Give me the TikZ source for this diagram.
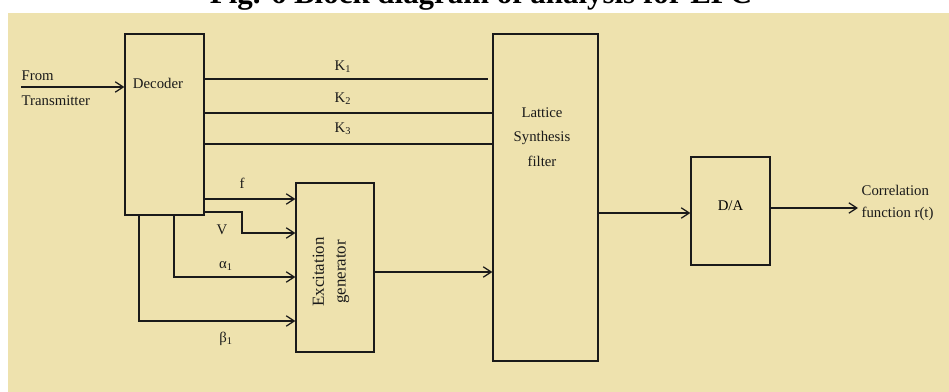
\documentclass[tikz,border=0pt]{standalone}
\usepackage{fontspec}
\setmainfont{Liberation Serif}
\usetikzlibrary{arrows.meta, positioning, fit, calc}
\definecolor{bgBeige}{HTML}{EEE2AE}
\definecolor{inkBlack}{HTML}{1A1A1A}

\begin{document}
\begin{tikzpicture}[x=0.025cm, y=-0.025cm,
   line/.style={draw=inkBlack, line width=0.9pt},
   arr/.style={line, -{Straight Barb[length=2mm, width=2.6mm]}},
   blk/.style={rectangle, draw=inkBlack, line width=0.9pt, inner sep=0pt,
               font=\fontsize{10.5}{12}\selectfont},
   lbl/.style={font=\fontsize{10.5}{12}\selectfont, text=inkBlack, inner sep=1pt}]

\useasboundingbox (0,0) rectangle (949,392);
\fill[bgBeige] (8,13) rectangle (949,392);
\node[font=\bfseries\fontsize{22}{24}\selectfont, anchor=base] (title) at (481,4)
     {Fig. 6 Block diagram of analysis for LPC};

% blocks
\node[blk, fit={(125,34) (204,215)}] (dec) {};
\node[blk, fit={(296,183) (374,352)}] (exc) {};
\node[blk, fit={(493,34) (598,361)}] (lat) {};
\node[blk, fit={(691,157) (770,265)}] (da) {D/A};

\node[lbl] (decTxt) at (158,83) {Decoder};
\node[lbl, align=center, font=\fontsize{10.5}{17.5}\selectfont] (latTxt) at (542,137)
     {Lattice\\Synthesis\\filter};
\node[lbl, rotate=90, align=center, font=\fontsize{12}{15.5}\selectfont] (excTxt)
     at (331,272) {Excitation\\generator};

% input
\coordinate (src) at (21,87);
\draw[arr] (src) -- (dec.west |- src);
\node[lbl, anchor=west] (from) at (20,76) {From};
\node[lbl, anchor=west] (trans) at (20,101) {Transmitter};

% reflection coefficients
\coordinate (k1) at (0,79);
\coordinate (k2) at (0,113);
\coordinate (k3) at (0,144);
\draw[line, shorten >=1mm] (dec.east |- k1) -- (lat.west |- k1);
\draw[line] (dec.east |- k2) -- (lat.west |- k2);
\draw[line] (dec.east |- k3) -- (lat.west |- k3);
\node[lbl, anchor=west] (k1Txt) at (333,67) {K\textsubscript{1}};
\node[lbl, anchor=west] (k2Txt) at (333,99) {K\textsubscript{2}};
\node[lbl, anchor=west] (k3Txt) at (333,129) {K\textsubscript{3}};

% excitation parameters
\coordinate (fy) at (0,199);
\coordinate (vy) at (0,212);
\coordinate (vk) at (242,233);
\coordinate (ak) at (174,277);
\coordinate (bk) at (139,321);
\draw[arr] (dec.east |- fy) -- (exc.west |- fy);
\draw[arr] (dec.east |- vy) -| (vk) -- (exc.west |- vk);
\draw[arr] (dec.south -| ak) |- (exc.west |- ak);
\draw[arr] (dec.south -| bk) |- (exc.west |- bk);
\node[lbl] (fTxt) at (242,183) {f};
\node[lbl] (vTxt) at (222,230) {V};
\node[lbl] (aTxt) at (226,266) {α\textsubscript{1}};
\node[lbl] (bTxt) at (226,339) {β\textsubscript{1}};

% signal path
\coordinate (ey) at (0,272);
\coordinate (ly) at (0,213);
\coordinate (out) at (858,208);
\draw[arr] (exc.east |- ey) -- (lat.west |- ey);
\draw[arr] (lat.east |- ly) -- (da.west |- ly);
\draw[arr] (da.east |- out) -- (out);
\node[lbl, anchor=west, align=left, font=\fontsize{10.5}{16}\selectfont] (corr)
     at (860,203) {Correlation\\function r(t)};
\end{tikzpicture}
\end{document}
